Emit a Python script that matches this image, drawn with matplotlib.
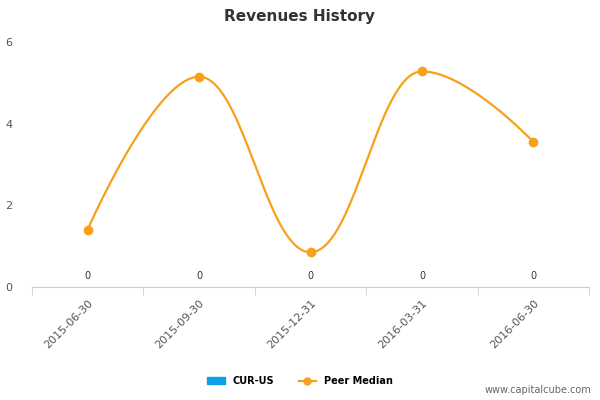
import matplotlib.pyplot as plt
import numpy as np
from matplotlib.patches import Rectangle
from matplotlib.lines import Line2D

categories = ["2015-06-30", "2015-09-30", "2015-12-31", "2016-03-31", "2016-06-30"]
cur_us = [0, 0, 0, 0, 0]
peer_median = [1.4, 5.15, 0.85, 5.28, 3.55]


def spline_path(xs, ys, steps=40):
    # Highcharts-style spline: bezier with smoothing 1.5
    px, py = [xs[0]], [ys[0]]
    n = len(xs)
    ctrl = []
    for i in range(n):
        if 0 < i < n - 1:
            lx = (1.5 * xs[i] + xs[i - 1]) / 2.5
            ly = (1.5 * ys[i] + ys[i - 1]) / 2.5
            rx = (1.5 * xs[i] + xs[i + 1]) / 2.5
            ry = (1.5 * ys[i] + ys[i + 1]) / 2.5
            if rx != lx:
                corr = ((ry - ly) * (rx - xs[i])) / (rx - lx) + ys[i] - ry
                ly += corr
                ry += corr
            if ly > max(ys[i - 1], ys[i]) or ly < min(ys[i - 1], ys[i]):
                ly = max(min(ly, max(ys[i - 1], ys[i])), min(ys[i - 1], ys[i]))
                ry = 2 * ys[i] - ly
            if ry > max(ys[i + 1], ys[i]) or ry < min(ys[i + 1], ys[i]):
                ry = max(min(ry, max(ys[i + 1], ys[i])), min(ys[i + 1], ys[i]))
                ly = 2 * ys[i] - ry
            ctrl.append(((lx, ly), (rx, ry)))
        else:
            ctrl.append(((xs[i], ys[i]), (xs[i], ys[i])))
    t = np.linspace(0, 1, steps)
    for i in range(n - 1):
        p0 = np.array([xs[i], ys[i]])
        p1 = np.array(ctrl[i][1])
        p2 = np.array(ctrl[i + 1][0])
        p3 = np.array([xs[i + 1], ys[i + 1]])
        pts = ((1 - t) ** 3)[:, None] * p0 + (3 * (1 - t) ** 2 * t)[:, None] * p1 \
            + (3 * (1 - t) * t ** 2)[:, None] * p2 + (t ** 3)[:, None] * p3
        px.extend(pts[1:, 0])
        py.extend(pts[1:, 1])
    return px, py


fig = plt.figure(figsize=(6, 4), dpi=100)
ax = fig.add_axes([0.053, 0.2825, 0.929, 0.6125])
x = np.arange(len(categories))
orange = "#f7a11a"

sx, sy = spline_path(list(x), peer_median)
ax.plot(sx, sy, color=orange, lw=1.6, zorder=3)
ax.plot(x, peer_median, "o", color=orange, ms=6, zorder=4)
for xi, v in zip(x, cur_us):
    ax.text(xi, v + 0.15, str(v), ha="center", va="bottom", fontsize=7, color="#333333")

ax.set_xlim(-0.5, len(categories) - 0.5)
ax.set_ylim(0, 6)
ax.set_yticks([0, 2, 4, 6])
ax.tick_params(axis="y", length=0, labelsize=8, labelcolor="#555555", pad=14)
ax.set_xticks(x)
ax.set_xticklabels(categories, rotation=45, ha="right", rotation_mode="anchor",
                   fontsize=8, color="#555555")
ax.tick_params(axis="x", length=0, pad=8)
ax.set_xticks(np.arange(-0.5, len(categories)), minor=True)
ax.tick_params(axis="x", which="minor", length=6, color="#c0d0e0")
for s in ["top", "right", "left"]:
    ax.spines[s].set_visible(False)
ax.spines["bottom"].set_color("#c0d0e0")

fig.text(0.5, 0.96, "Revenues History", ha="center", va="center", fontsize=11,
         color="#333333", fontweight="bold")

handles = [Rectangle((0, 0), 1, 1, color="#0da0e8"),
           Line2D([0], [0], color=orange, marker="o", lw=1.6, ms=5)]
fig.legend(handles, ["CUR-US", "Peer Median"], loc="center", bbox_to_anchor=(0.5, 0.047),
           ncol=2, frameon=False, prop={"size": 7, "weight": "bold"}, handlelength=1.8,
           columnspacing=2.5)
fig.text(0.985, 0.025, "www.capitalcube.com", ha="right", va="center", fontsize=7, color="#666666")

fig.savefig("out.png")
